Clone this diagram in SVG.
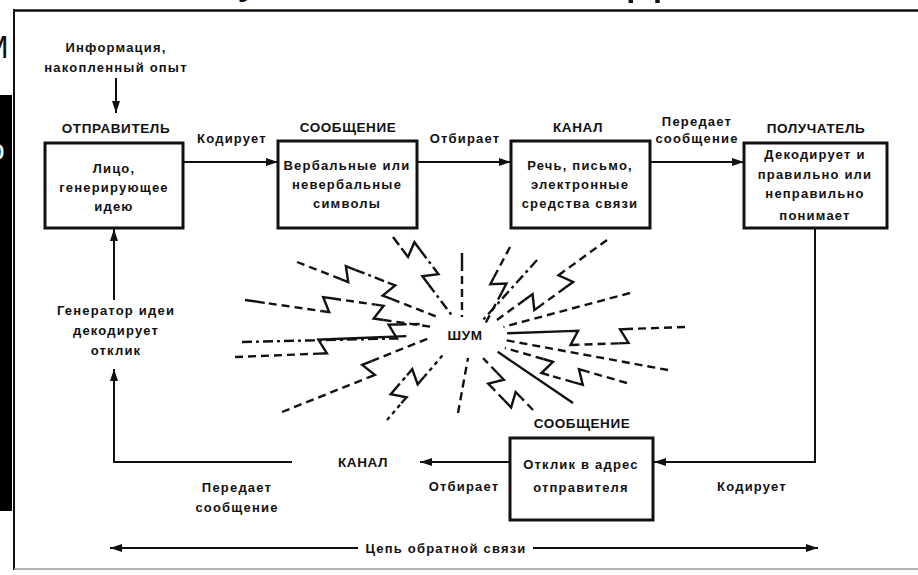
<svg xmlns="http://www.w3.org/2000/svg" width="918" height="575" viewBox="0 0 918 575">
<defs>
<style>
.t{font-family:"Liberation Sans",Arial,sans-serif;font-weight:bold;font-size:13px;letter-spacing:1.2px;fill:#111;text-anchor:middle}
.h{font-family:"Liberation Sans",Arial,sans-serif;font-weight:bold;font-size:13.5px;letter-spacing:0.6px;fill:#111;text-anchor:middle}
.box{fill:#fff;stroke:#111;stroke-width:3}
.ln{fill:none;stroke:#111;stroke-width:2}
.ds{fill:none;stroke:#111;stroke-width:2.4;stroke-dasharray:8 5}
.dd{fill:none;stroke:#111;stroke-width:2.4;stroke-dasharray:10 4 3 4}
.dt{fill:none;stroke:#111;stroke-width:2.4;stroke-dasharray:4 4}
.so{fill:none;stroke:#111;stroke-width:2.4}
.z{fill:none;stroke:#111;stroke-width:2.4;stroke-linejoin:miter}
</style>
<marker id="ah" viewBox="0 0 12 8" refX="12" refY="4" markerWidth="12" markerHeight="8" markerUnits="userSpaceOnUse" orient="auto">
<path d="M0,0 L12,4 L0,8 Z" fill="#111"/>
</marker>
</defs>
<rect width="918" height="575" fill="#fff"/>

<!-- page fragments -->
<g id="page">
<rect x="0" y="95" width="12" height="416" fill="#000"/>
<text x="-12" y="160" font-family="Liberation Sans,Arial,sans-serif" font-size="30" fill="#fff">о</text>
<text x="-18" y="58" font-family="Liberation Sans,Arial,sans-serif" font-size="32" fill="#111">М</text>
<text x="238" y="-8" font-family="Liberation Sans,Arial,sans-serif" font-size="46" fill="#111">у</text>
<text x="628" y="-9" font-family="Liberation Sans,Arial,sans-serif" font-size="56" fill="#111">д</text>
<line x1="13" y1="10.5" x2="918" y2="10.5" stroke="#111" stroke-width="2.5"/>
<line x1="14" y1="9" x2="14" y2="570" stroke="#111" stroke-width="2"/>
<line x1="14" y1="569" x2="918" y2="569" stroke="#999" stroke-width="1.5"/>
</g>

<g id="connectors">
<line class="ln" x1="116" y1="78" x2="116" y2="113" marker-end="url(#ah)"/>
<line class="ln" x1="183" y1="162" x2="278" y2="162" marker-end="url(#ah)"/>
<line class="ln" x1="417" y1="162" x2="511" y2="162" marker-end="url(#ah)"/>
<line class="ln" x1="650" y1="162" x2="744" y2="162" marker-end="url(#ah)"/>
<polyline class="ln" points="815,228 815,462 654,462" marker-end="url(#ah)"/>
<line class="ln" x1="510" y1="462" x2="420" y2="462" marker-end="url(#ah)"/>
<polyline class="ln" points="292,462 114,462 114,369" marker-end="url(#ah)"/>
<line class="ln" x1="114" y1="300" x2="114" y2="229" marker-end="url(#ah)"/>
<line class="ln" x1="358" y1="548" x2="110" y2="548" marker-end="url(#ah)"/>
<line class="ln" x1="533" y1="548" x2="818" y2="548" marker-end="url(#ah)"/>
</g>

<g id="labels">
<text class="t" x="116" y="52">Информация,</text>
<text class="t" x="116" y="72">накопленный опыт</text>
<text class="h" x="116" y="133">ОТПРАВИТЕЛЬ</text>
<text class="t" x="232" y="143">Кодирует</text>
<text class="h" x="348" y="132">СООБЩЕНИЕ</text>
<text class="t" x="465" y="143">Отбирает</text>
<text class="h" x="578" y="132">КАНАЛ</text>
<text class="t" x="697" y="126">Передает</text>
<text class="t" x="697" y="143">сообщение</text>
<text class="h" x="816" y="133">ПОЛУЧАТЕЛЬ</text>
<text class="t" x="116" y="315">Генератор идеи</text>
<text class="t" x="116" y="335">декодирует</text>
<text class="t" x="116" y="355">отклик</text>
<text class="t" x="237" y="492">Передает</text>
<text class="t" x="237" y="512">сообщение</text>
<text class="h" x="363" y="467">КАНАЛ</text>
<text class="t" x="464" y="491">Отбирает</text>
<text class="t" x="752" y="491">Кодирует</text>
<text class="h" x="582" y="428">СООБЩЕНИЕ</text>
<text class="t" x="446" y="553">Цепь обратной связи</text>
<text class="h" x="465" y="340">ШУМ</text>
</g>

<g id="sender">
<rect class="box" x="45" y="143" width="138" height="85"/>
<text class="t" x="114" y="173">Лицо,</text>
<text class="t" x="114" y="192">генерирующее</text>
<text class="t" x="114" y="211">идею</text>
</g>
<g id="message">
<rect class="box" x="278" y="141" width="139" height="87"/>
<text class="t" x="347" y="170">Вербальные или</text>
<text class="t" x="347" y="189">невербальные</text>
<text class="t" x="347" y="208">символы</text>
</g>
<g id="channel">
<rect class="box" x="511" y="141" width="139" height="87"/>
<text class="t" x="580" y="170">Речь, письмо,</text>
<text class="t" x="580" y="189">электронные</text>
<text class="t" x="580" y="208">средства связи</text>
</g>
<g id="receiver">
<rect class="box" x="744" y="143" width="143" height="85"/>
<text class="t" x="815" y="159">Декодирует и</text>
<text class="t" x="815" y="179">правильно или</text>
<text class="t" x="815" y="198">неправильно</text>
<text class="t" x="815" y="220">понимает</text>
</g>
<g id="response">
<rect class="box" x="510" y="438" width="143" height="82"/>
<text class="t" x="581" y="469">Отклик в адрес</text>
<text class="t" x="581" y="492">отправителя</text>
</g>

<g id="noise">
<g transform="translate(393,237) rotate(53.1)">
<path class="dd" d="M0,0 H17 M27,-14 H49 M59,0 H100"/>
<path class="z" d="M17,0 H25 L17,-14 H27 M49,-14 H57 L49,0 H59"/>
</g>
<g transform="translate(462,253) rotate(90)">
<path class="so" d="M0,0 H18"/><path class="ds" d="M23,0 H64"/>
</g>
<g transform="translate(510,247) rotate(117.9)">
<path class="ds" d="M0,0 H34 M44,-14 H79"/>
<path class="z" d="M34,0 H42 L34,-14 H44"/>
</g>
<g transform="translate(537,260) rotate(132)">
<path class="dd" d="M0,0 H81"/>
</g>
<g transform="translate(607,240) rotate(144)">
<path class="ds" d="M0,0 H52 M62,-14 H92 M102,0 H136"/>
<path class="z" d="M52,0 H60 L52,-14 H62 M92,-14 H100 L92,0 H102"/>
</g>
<g transform="translate(630,293) rotate(165)">
<path class="ds" d="M0,0 H131"/>
</g>
<g transform="translate(685,327) rotate(178)">
<path class="ds" d="M0,0 H57 M67,-14 H107"/>
<path class="z" d="M57,0 H65 L57,-14 H67 M107,-14 H115 L107,0 H117"/>
<path class="so" d="M117,0 H178"/>
</g>
<g transform="translate(668,370) rotate(190.4)">
<path class="ds" d="M0,0 H166"/>
</g>
<g transform="translate(627,383) rotate(196)">
<path class="ds" d="M0,0 H42 M52,-14 H77 M87,0 H127"/>
<path class="z" d="M42,0 H50 L42,-14 H52 M77,-14 H85 L77,0 H87"/>
</g>
<g transform="translate(573,403) rotate(214.2)">
<path class="so" d="M0,0 H91"/>
</g>
<g transform="translate(533,410) rotate(226.1)">
<path class="ds" d="M0,0 H17 M27,-14 H42 M52,0 H72"/>
<path class="z" d="M17,0 H25 L17,-14 H27 M42,-14 H50 L42,0 H52"/>
</g>
<g transform="translate(458,413) rotate(-79.7)">
<path class="ds" d="M0,0 H56"/>
</g>
<g transform="translate(387,420) rotate(-49.3)">
<path class="dt" d="M0,0 H22 M32,-14 H47 M57,0 H86"/>
<path class="z" d="M22,0 H30 L22,-14 H32 M47,-14 H55 L47,0 H57"/>
</g>
<g transform="translate(282,412) rotate(-21.8)">
<path class="ds" d="M0,0 H92 M102,-14 H162"/>
<path class="z" d="M92,0 H100 L92,-14 H102"/>
</g>
<g transform="translate(235,357) rotate(-2.3)">
<path class="ds" d="M0,0 H84"/>
<path class="z" d="M84,0 H92 L84,-14 H94"/>
<path class="so" d="M94,-14 H172"/>
</g>
<g transform="translate(242,342) rotate(-1.3)">
<path class="dd" d="M0,0 H147"/>
<path class="z" d="M147,0 H155 L147,-14 H157"/>
<path class="ds" d="M157,-14 H183"/>
</g>
<g transform="translate(245,300) rotate(8.2)">
<path class="so" d="M0,0 H20"/>
<path class="ds" d="M24,0 H77 M87,-14 H130 M140,0 H190"/>
<path class="z" d="M77,0 H85 L77,-14 H87 M130,-14 H138 L130,0 H140"/>
</g>
<g transform="translate(297,262) rotate(21.4)">
<path class="ds" d="M0,0 H47 M102,0 H154"/>
<path class="dd" d="M57,-14 H92"/>
<path class="z" d="M47,0 H55 L47,-14 H57 M92,-14 H100 L92,0 H102"/>
</g>
</g>
</svg>
